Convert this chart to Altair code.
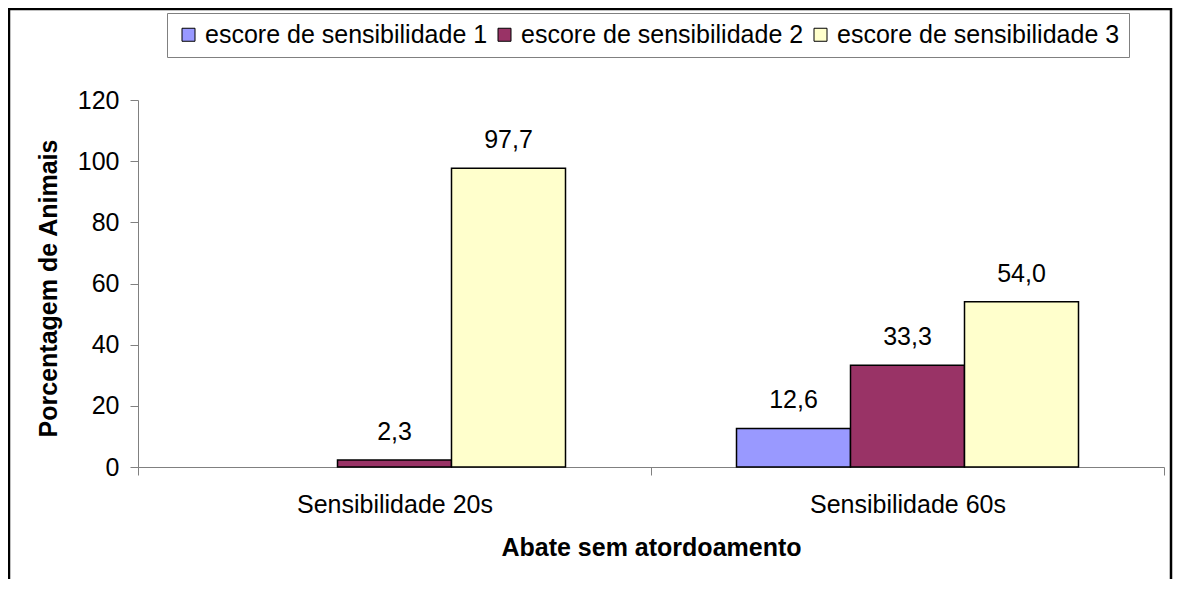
import altair as alt
import pandas as pd

categories = ["Sensibilidade 20s", "Sensibilidade 60s"]
series = ["escore de sensibilidade 1", "escore de sensibilidade 2", "escore de sensibilidade 3"]
values_20s = [None, 2.3, 97.7]
values_60s = [12.6, 33.3, 54.0]
colors = ["#9999FF", "#993366", "#FFFFCC"]
y_ticks = [0, 20, 40, 60, 80, 100, 120]

rows = []
for cat, vals in zip(categories, [values_20s, values_60s]):
    for s, v in zip(series, vals):
        if v is None:
            continue
        rows.append({"cat": cat, "serie": s, "valor": v,
                     "rotulo": f"{v:.1f}".replace(".", ",")})
df = pd.DataFrame(rows)

W, H = 1026, 367
FONT = "Liberation Sans"

x = alt.X("cat:N", sort=categories,
          scale=alt.Scale(paddingInner=0, paddingOuter=0),
          axis=alt.Axis(title="Abate sem atordoamento", labelAngle=0,
                        tickBand="extent", tickSize=8, labelPadding=17,
                        labelLimit=400,
                        titleY=88, titleBaseline="alphabetic"))
xo = alt.XOffset("serie:N", sort=series,
                 scale=alt.Scale(paddingInner=0, paddingOuter=0.75))
y = alt.Y("valor:Q", scale=alt.Scale(domain=[0, 120], nice=False),
          axis=alt.Axis(values=y_ticks, title="Porcentagem de Animais",
                        grid=False, tickSize=8, labelPadding=11,
                        titleX=-82, titleY=188, titleAngle=-90,
                        titleBaseline="alphabetic", titleAlign="center"))
color = alt.Color("serie:N", sort=series,
                  scale=alt.Scale(domain=series, range=colors),
                  legend=alt.Legend(orient="none", legendX=29, legendY=-87,
                                    direction="horizontal", columns=3,
                                    title=None, symbolType="square",
                                    symbolSize=169, symbolStrokeColor="black",
                                    symbolStrokeWidth=1, labelFontSize=25,
                                    labelFont=FONT, labelColor="black",
                                    labelOffset=4, columnPadding=4,
                                    padding=9, strokeColor="#808080",
                                    fillColor="white", labelLimit=400))

bars = alt.Chart(df).mark_bar(stroke="black", strokeWidth=1.5).encode(
    x=x, xOffset=xo, y=y, color=color)

labels = alt.Chart(df).mark_text(dy=-20, baseline="alphabetic", fontSize=25,
                                 font=FONT, color="black").encode(
    x=alt.X("cat:N", sort=categories), xOffset=alt.XOffset("serie:N", sort=series),
    y="valor:Q", text="rotulo:N")

frame = alt.Chart(alt.Data(values=[{"a": 1}])).mark_rect(
    fillOpacity=0, stroke="black", strokeWidth=2.5).encode(
    x=alt.value(-129), x2=alt.value(1033), y=alt.value(-91), y2=alt.value(500))

chart = alt.layer(frame, bars, labels).properties(
    width=W, height=H,
    autosize=alt.AutoSizeParams(type="none"),
    padding={"left": 130, "top": 92, "right": 9, "bottom": 112},
    background="white",
).configure_view(strokeWidth=0).configure_axis(
    labelFont=FONT, labelFontSize=25, labelColor="black",
    titleFont=FONT, titleFontSize=25, titleFontWeight="bold", titleColor="black",
    domainColor="#808080", tickColor="#808080", domainWidth=1, tickWidth=1,
)

chart.save("out.html", embed_options={"renderer": "svg", "actions": False})
